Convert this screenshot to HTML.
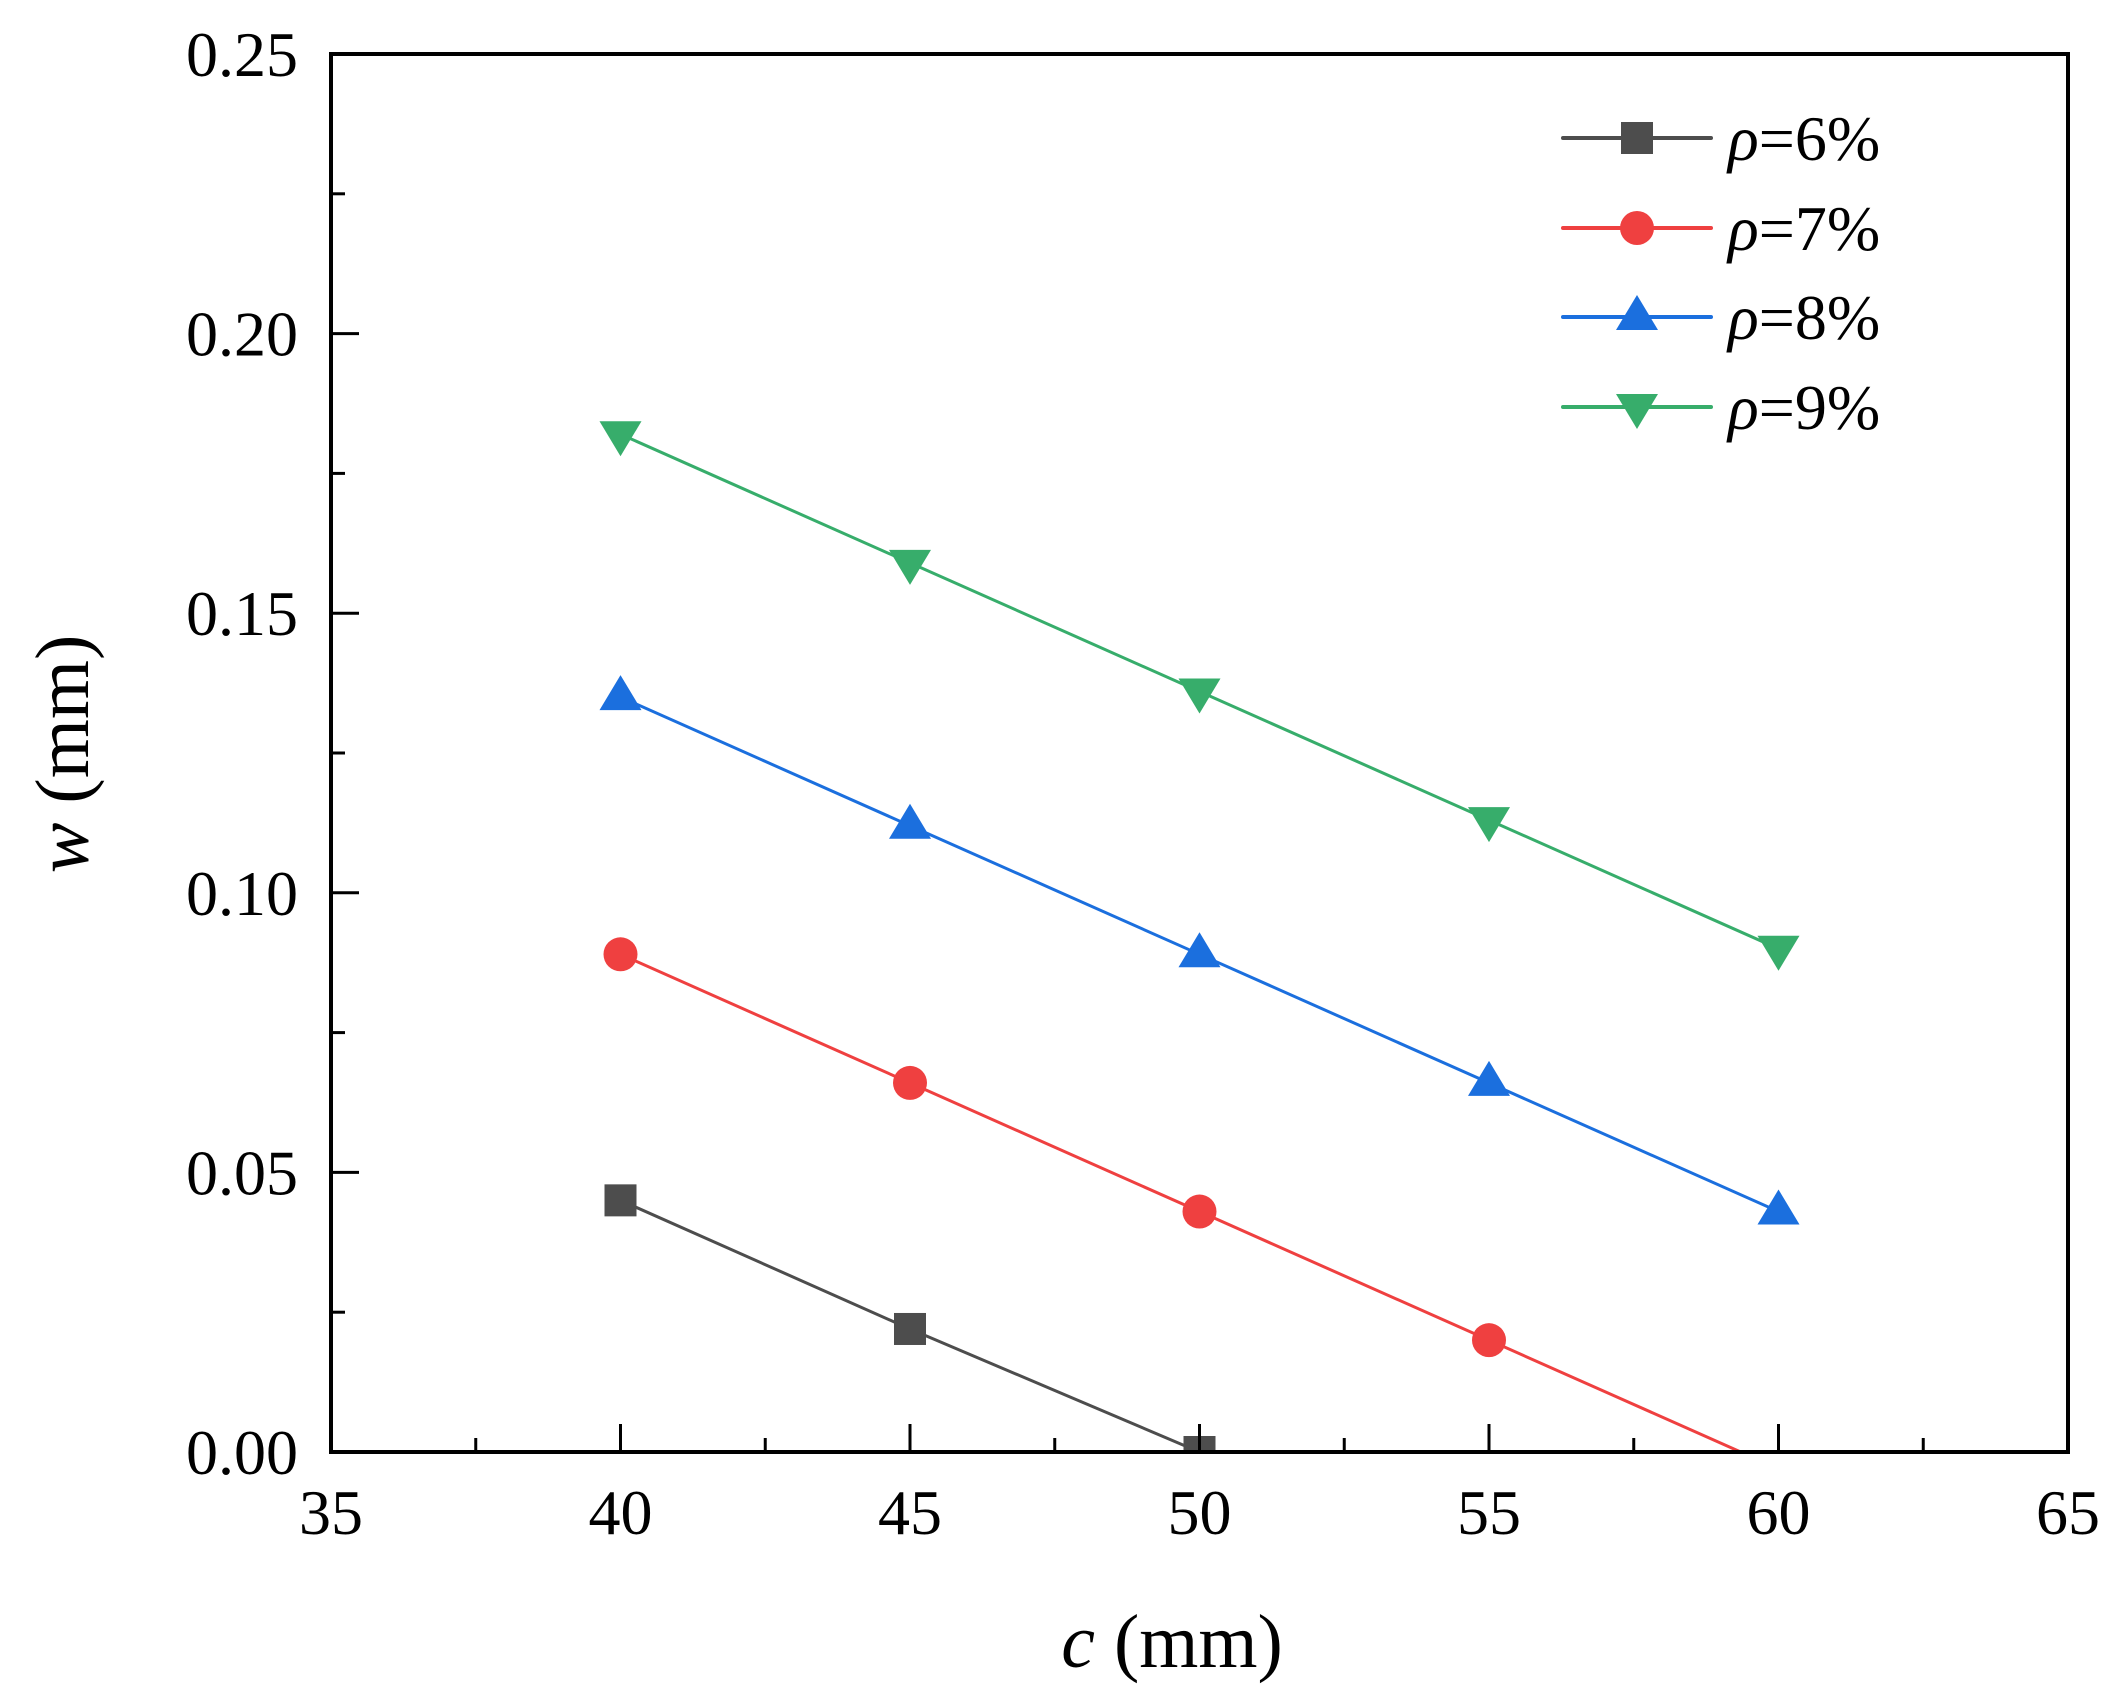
<!DOCTYPE html>
<html><head><meta charset="utf-8"><style>
html,body{margin:0;padding:0;background:#fff;}
svg{display:block;}
svg text{font-family:"Liberation Serif","Times New Roman",Times,serif;}
</style></head><body>
<svg id="chart" width="2112" height="1700" xmlns="http://www.w3.org/2000/svg">
<defs><clipPath id="plotclip"><rect x="331" y="54" width="1737" height="1398"/></clipPath></defs>
<g id="grid-layer"></g>
<g id="series-layer" clip-path="url(#plotclip)"></g>
<g id="axis-layer"></g>
<g id="legend-layer"></g>
</svg>
<script>
const categories = [40, 45, 50, 55, 60];
const seriesNames = ["6%", "7%", "8%", "9%"];
const values6 = [0.045, 0.022, 0.0, -0.023, -0.046];
const values7 = [0.089, 0.066, 0.043, 0.020, -0.003];
const values8 = [0.135, 0.112, 0.089, 0.066, 0.043];
const values9 = [0.182, 0.159, 0.136, 0.113, 0.090];
const xTicks = [35, 40, 45, 50, 55, 60, 65];
const yTicks = ["0.00", "0.05", "0.10", "0.15", "0.20", "0.25"];

const L=331,R=2068,T=54,B=1452;
const FONT='"Liberation Serif","Times New Roman",Times,serif';
const NS="http://www.w3.org/2000/svg";
function xs(v){return L+(v-35)/30*(R-L);}
function ys(v){return B-v/0.25*(B-T);}
function mk(tag,attrs,parent){const e=document.createElementNS(NS,tag);for(const k in attrs)e.setAttribute(k,attrs[k]);parent.appendChild(e);return e;}
const sl=document.getElementById('series-layer');
const al=document.getElementById('axis-layer');
const lg=document.getElementById('legend-layer');
const colors=["#4d4d4d","#ef4040","#1b6fde","#37ad6b"];
const shapes=["square","circle","up","down"];
const all=[values6,values7,values8,values9];

function marker(shape,cx,cy,color,parent){
  let e;
  if(shape==="square") e=mk('rect',{x:cx-16,y:cy-16,width:32,height:32,fill:color},parent);
  else if(shape==="circle") e=mk('circle',{cx:cx,cy:cy,r:17,fill:color},parent);
  else if(shape==="up") e=mk('polygon',{points:`${cx},${cy-22} ${cx-21},${cy+13} ${cx+21},${cy+13}`,fill:color},parent);
  else e=mk('polygon',{points:`${cx},${cy+22} ${cx-21},${cy-13} ${cx+21},${cy-13}`,fill:color},parent);
  return e;
}

all.forEach((vals,si)=>{
  const pts=categories.map((c,i)=>xs(c)+","+ys(vals[i])).join(" ");
  const pl=mk('polyline',{points:pts,fill:"none",stroke:colors[si],"stroke-width":3},sl);
  
  
  categories.forEach((c,i)=>{
    const m=marker(shapes[si],xs(c),ys(vals[i]),colors[si],sl);
    
    
  });
});

const fr=mk('rect',{x:L,y:T,width:R-L,height:B-T,fill:"none",stroke:"#000","stroke-width":4},al);



for(let v=35;v<=65;v+=2.5){
  const major=(v%5===0);
  const t=mk('line',{x1:xs(v),x2:xs(v),y1:B,y2:B-(major?28:14),stroke:"#000","stroke-width":3},al);
  
  
}
xTicks.forEach(v=>{
  const t=mk('text',{x:xs(v),y:1534,"text-anchor":"middle","font-size":64,"font-family":FONT},al);
  t.textContent=v;
  
  
});
for(let i=0;i<=10;i++){
  const v=i*0.025;const major=(i%2===0);
  const t=mk('line',{x1:L,x2:L+(major?28:14),y1:ys(v),y2:ys(v),stroke:"#000","stroke-width":3},al);
  
  
}
yTicks.forEach(s=>{
  const t=mk('text',{x:298,y:ys(parseFloat(s))+22,"text-anchor":"end","font-size":64,"font-family":FONT},al);
  t.textContent=s;
  
  
});
const xt=mk('text',{x:1172,y:1667,"text-anchor":"middle","font-size":76,"font-family":FONT},al);
xt.innerHTML='<tspan font-style="italic">c</tspan> (mm)';


const yt=mk('text',{x:0,y:0,"text-anchor":"middle","font-size":76,"font-family":FONT,transform:"translate(88,754) rotate(-90)"},al);
yt.innerHTML='<tspan font-style="italic">w</tspan> (mm)';



const rows=[138,228,317,407];
seriesNames.forEach((n,i)=>{
  const g=mk('g',{},lg);
  
  
  mk('line',{x1:1563,x2:1711,y1:rows[i],y2:rows[i],stroke:colors[i],"stroke-width":4,"stroke-linecap":"round"},g);
  marker(shapes[i],1637,rows[i],colors[i],g);
  const t=mk('text',{x:1728,y:rows[i]+22,"font-size":64,"font-family":FONT},g);
  t.innerHTML='<tspan font-style="italic">ρ</tspan>='+n;
});
</script>
</body></html>
